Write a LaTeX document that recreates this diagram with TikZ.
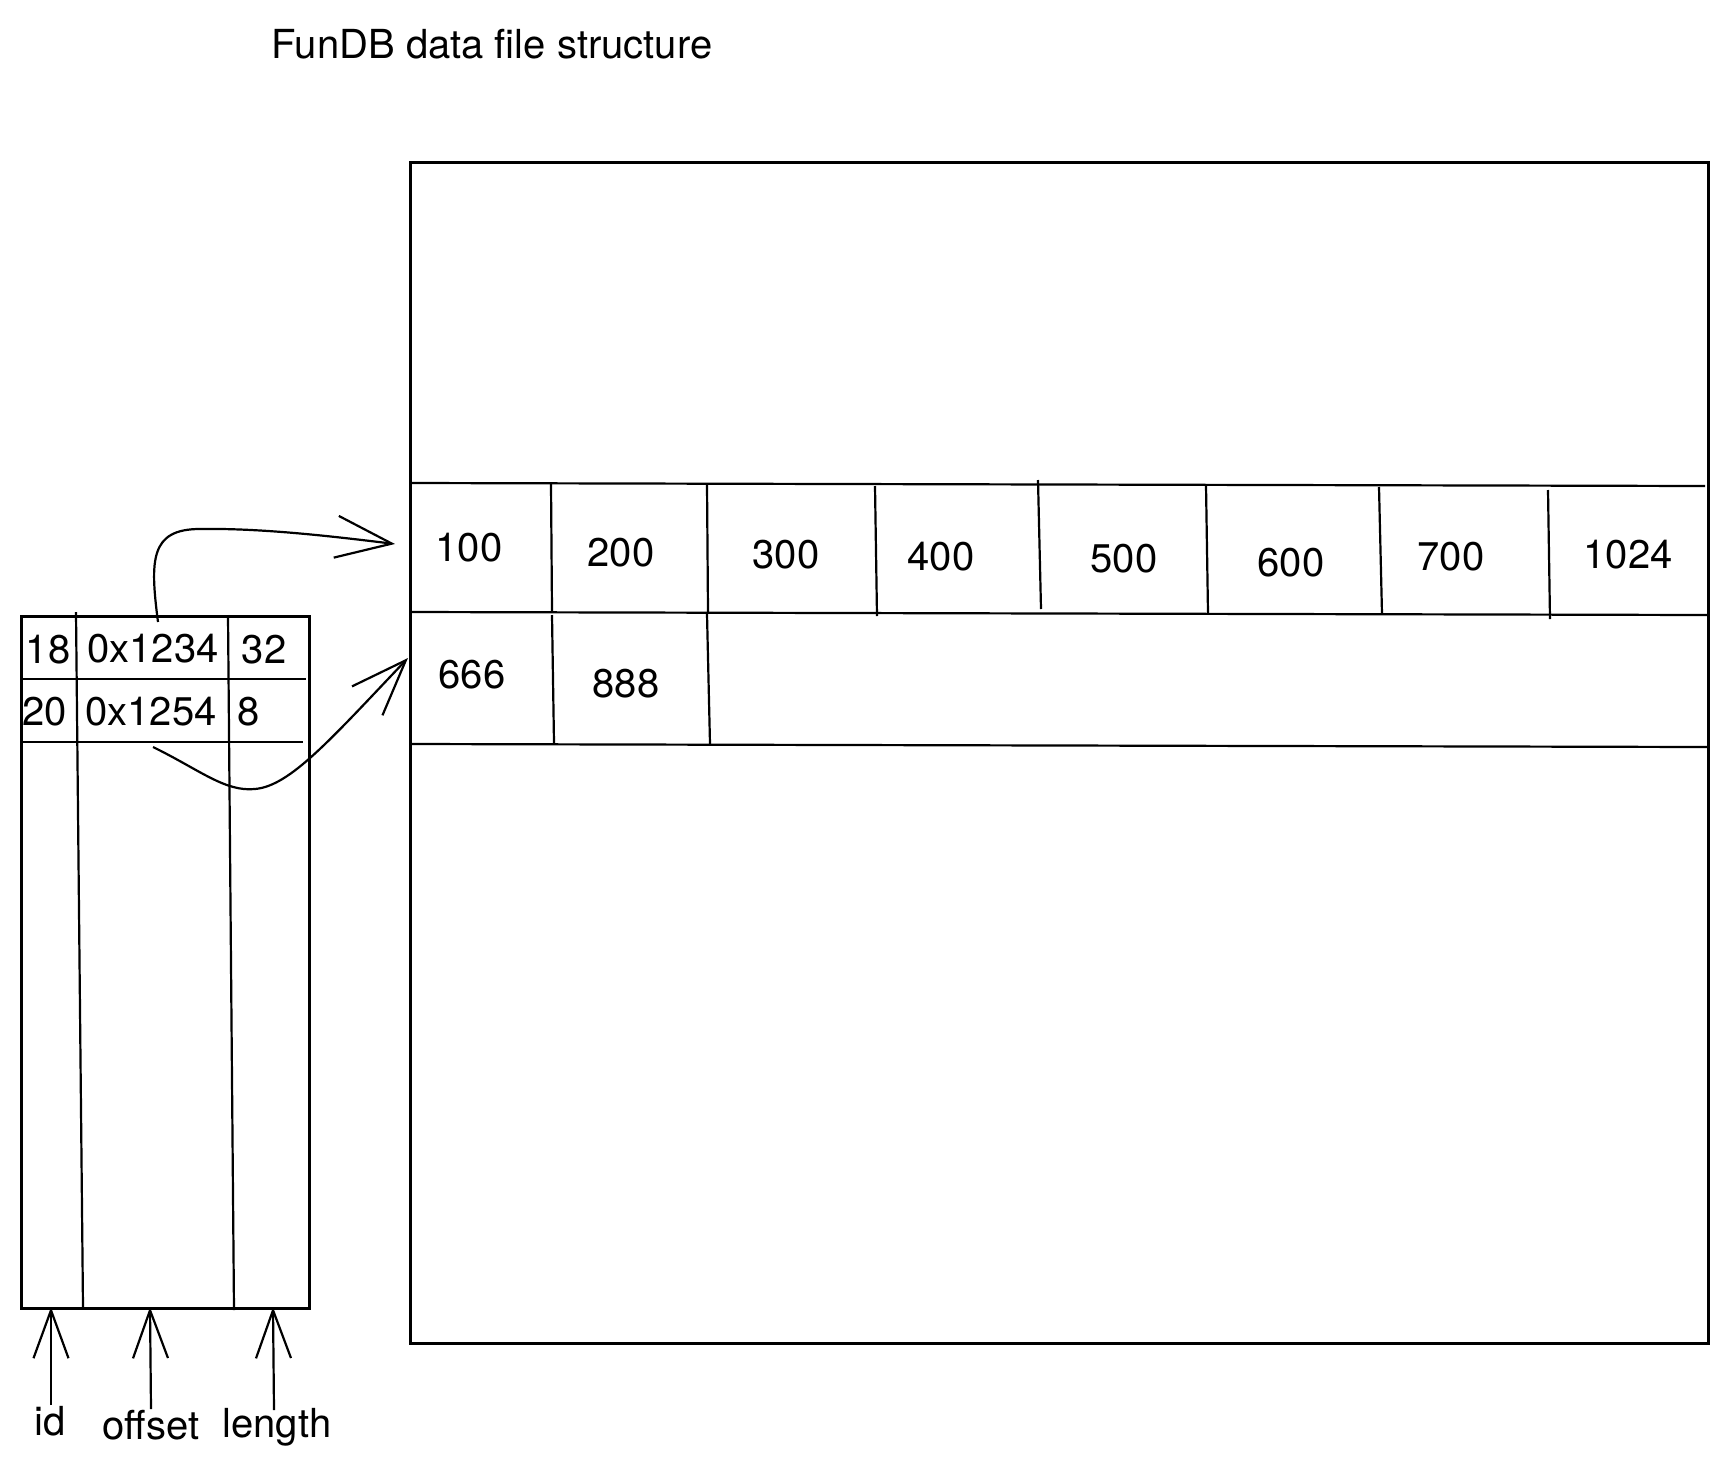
\documentclass[tikz,border=0pt]{standalone}
\usepackage{fontspec}
\setmainfont{TeX Gyre Heros}
\usetikzlibrary{arrows.meta}
\begin{document}
\begin{tikzpicture}[x=1pt,y=-1pt,line width=2.2pt,
  lbl/.style={anchor=base,inner sep=0pt,font=\fontsize{40}{48}\selectfont},
  frame/.style={draw,line width=2.5pt,inner sep=0pt,anchor=north west},
  ptr/.style={line width=2.2pt,-{Straight Barb[length=56pt,width=42pt]}},
  upptr/.style={line width=2.2pt,-{Straight Barb[length=48pt,width=35pt]}}]
\useasboundingbox (0,0) rectangle (1727,1467);
% title
\node[lbl] (title) at (492,58) {FunDB data file structure};
% big data file box
\node[frame,minimum width=1298pt,minimum height=1181pt] (file) at (409,161) {};
\draw (409,483) -- (1705,486);
\draw (409,612) -- (1707,615);
\draw (411,744) -- (1707,747);
\draw (551,484) -- (552,611);
\draw (707,484) -- (708,612);
\draw (875,486) -- (877,616);
\draw (1038,480) -- (1041,609);
\draw (1206,485) -- (1208,613);
\draw (1379,487) -- (1382,614);
\draw (1548,490) -- (1550,619);
\draw (552,615) -- (554,743);
\draw (707,614) -- (710,744);
\node[lbl] (v100) at (469,561) {100};
\node[lbl] (v200) at (621,566) {200};
\node[lbl] (v300) at (786,568) {300};
\node[lbl] (v400) at (941,570) {400};
\node[lbl] (v500) at (1124,572) {500};
\node[lbl] (v600) at (1291,576) {600};
\node[lbl] (v700) at (1451,570) {700};
\node[lbl] (v1024) at (1628,568) {1024};
\node[lbl] (v666) at (472,688) {666};
\node[lbl] (v888) at (626,697) {888};
% index table
\node[frame,minimum width=288pt,minimum height=692pt] (tbl) at (20,615) {};
\draw (23,679) -- (306,679);
\draw (21,742) -- (303,742);
\draw (76,612) -- (83,1307);
\draw (228,615) -- (234,1310);
\node[lbl] (i18) at (48,663) {18};
\node[lbl] (o1) at (153,662) {0x1234};
\node[lbl] (l32) at (264,663) {32};
\node[lbl] (i20) at (45,725) {20};
\node[lbl] (o2) at (151,725) {0x1254};
\node[lbl] (l8) at (249,725) {8};
% pointers
\coordinate (p1s) at (158,622);
\coordinate (p1e) at (395,544);
\draw[ptr] (p1s) .. controls (150,560) and (150,529) .. (200,529)
  .. controls (260,528) and (330,536) .. (p1e);
\coordinate (p2s) at (153,747);
\coordinate (p2e) at (408,658);
\draw[ptr] (p2s) .. controls (200,770) and (225,792) .. (255,789)
  .. controls (290,786) and (330,740) .. (p2e);
% column labels
\node[lbl] (lid) at (50,1435) {id};
\node[lbl] (loff) at (151,1439) {offset};
\node[lbl] (llen) at (277,1437) {length};
\coordinate (aid) at (51,1405);
\coordinate (bid) at (51,1307);
\coordinate (aoff) at (151,1409);
\coordinate (boff) at (150,1307);
\coordinate (alen) at (274,1410);
\coordinate (blen) at (273,1307);
\draw[upptr] (aid) -- (bid);
\draw[upptr] (aoff) -- (boff);
\draw[upptr] (alen) -- (blen);
\end{tikzpicture}
\end{document}
